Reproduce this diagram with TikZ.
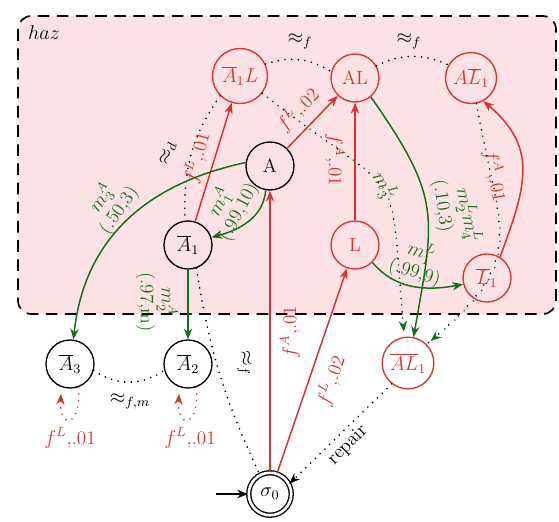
\documentclass[tikz,border=0pt]{standalone}
\usetikzlibrary{arrows.meta}
\definecolor{cred}{RGB}{215,52,48}
\definecolor{cgreen}{RGB}{22,112,22}
\definecolor{cpink}{RGB}{253,226,229}
\begin{document}
\begin{tikzpicture}[x=0.6pt,y=-0.6pt,
  every node/.append style={font=\fontsize{11.5}{12.5}\selectfont},
  st/.style={circle,draw,line width=0.8pt,minimum size=28.8pt,inner sep=1pt},
  rst/.style={st,draw=cred,text=cred},
  tip/.style={-{Stealth[length=6.5pt,width=5pt]}},
  redge/.style={cred,line width=0.9pt,tip},
  gedge/.style={cgreen,line width=0.9pt,tip},
  dotl/.style={line width=1.1pt,line cap=round,dash pattern=on 0pt off 4pt},
  dotalt/.style={line width=1.1pt,line cap=round,dash pattern=on 0pt off 8pt},
  rlab/.style={text=cred,inner sep=1pt},
  glab/.style={text=cgreen,inner sep=1pt,align=center},
  blab/.style={inner sep=1pt},
]
\useasboundingbox (0,0) rectangle (559,522);
\draw[line width=1pt,dash pattern=on 7pt off 4.5pt,fill=cpink,rounded corners=8pt] (18,16) rectangle (556,314);
\node[blab] (haz) at (44,33) {$haz$};

% states
\node[st] (A) at (270,166) {A};
\node[st] (A1) at (188,245) {$\overline{A}_1$};
\node[st] (A2) at (188,364) {$\overline{A}_2$};
\node[st] (A3) at (70,364) {$\overline{A}_3$};
\node[rst,minimum size=33pt] (A1L) at (240,76) {$\overline{A}_1L$};
\node[rst] (AL) at (355,78) {AL};
\node[rst,minimum size=30.6pt] (AL1) at (471,78) {$A\overline{L}_1$};
\node[rst] (L) at (355,245) {L};
\node[rst] (L1) at (487,278) {$\overline{L}_1$};
\node[rst,minimum size=31pt] (AL1b) at (408,363) {$\overline{AL}_1$};
\node[st,double,double distance=1.6pt,minimum size=25.5pt] (s0) at (270,494) {$\sigma_0$};
\coordinate (init) at (216,494);

% black dotted relations
\draw[dotl] (A1L.25) to[bend left=25] (AL.165);
\node[blab] (r1) at (300,41) {$\approx_f$};
\draw[dotl] (AL.30) to[bend left=25] (AL1.150);
\node[blab] (r2) at (409,41) {$\approx_f$};
\draw[dotl] (A1L.225) to[out=-125,in=92] (A1.97);
\node[blab,rotate=75] (r3) at (168,153) {$\approx_d$};
\draw[dotl] (A1.-70) to[bend right=8] (s0.118);
\node[blab,rotate=-80] (r4) at (244,363) {$\approx_f$};
\draw[dotl] (A3.-15) to[bend right=35] (A2.195);
\node[blab] (r5) at (130,401) {$\approx_{f,m}$};
\draw[dotl,tip] (AL1b.232) -- (s0.28);
\node[blab,rotate=45] (r6) at (348,445) {repair};
\draw[tip,line width=0.8pt] (init) -- (s0);

% red failure transitions
\draw[redge] (A1) -- (A1L);
\node[rlab,rotate=75] (l1) at (197,158) {$f^L$,.01};
\draw[redge] (A) -- (AL);
\node[rlab,rotate=46] (l2) at (298,110) {$f^L$,.02};
\draw[redge] (s0) -- (A);
\node[rlab,rotate=90] (l3) at (290,332) {$f^A$,.01};
\draw[redge] (s0) -- (L);
\node[rlab,rotate=71] (l4) at (331,381) {$f^L$,.02};
\draw[redge] (L) -- (AL);
\node[rlab,rotate=-90] (l8) at (335,160) {$f^A$,.01};
\draw[redge] (L1.58) to[out=70,in=-40,looseness=1.2] (AL1.-62);
\node[rlab,rotate=-80] (l7) at (495,176) {$f^A$,.01};
\draw[cred,dotl,tip,shorten >=4pt] (A3.-70) .. controls +(3,42) and +(-3,42) .. (A3.-110);
\node[rlab] (l5) at (70,438) {$f^L$,.01};
\draw[cred,dotl,tip,shorten >=4pt] (A2.-70) .. controls +(3,42) and +(-3,42) .. (A2.-110);
\node[rlab] (l6) at (190,438) {$f^L$,.01};

% green maintenance transitions
\draw[gedge] (A.-100) to[out=-95,in=15] (A1.18);
\node[glab,rotate=62] (g1) at (229,207) {$m_1^A$\\(.99,10)};
\draw[gedge] (A.172) to[out=192,in=84,looseness=1.05] (A3.82);
\node[glab,rotate=55] (g2) at (110,204) {$m_3^A$\\(.50,3)};
\draw[gedge] (A1) -- (A2);
\node[glab,rotate=-90] (g3) at (157,302) {$m_2^A$\\(.97,m)};
\draw[gedge] (L.-45) to[out=-50,in=190] (L1.195);
\node[glab,rotate=-18] (g4) at (418,262) {$m_1^L$\\(.99,9)};
\draw[gedge] (AL.-50) to[out=-55,in=80,looseness=1.3] (AL1b.78);
\node[glab,rotate=-82] (g5) at (442,206) {(.10,3)};
\node[glab,rotate=-78] (g6) at (468,215) {$m_2^Lm_4^L$};

% dotted maintenance transitions
\draw[dotalt] (A1L.-38) to[out=-38,in=95,looseness=1.7] (AL1b.98);
\draw[dotalt,cgreen,dash phase=4pt,tip,shorten >=3pt] (A1L.-38) to[out=-38,in=95,looseness=1.7] (AL1b.98);
\node[glab,rotate=-60] (g7) at (384,186) {$m_3^L$};
\draw[dotalt] (AL1.-78) to[out=-80,in=40,looseness=1.4] (AL1b.45);
\draw[dotalt,cgreen,dash phase=4pt,tip,shorten >=3pt] (AL1.-78) to[out=-80,in=40,looseness=1.4] (AL1b.45);
\end{tikzpicture}
\end{document}
